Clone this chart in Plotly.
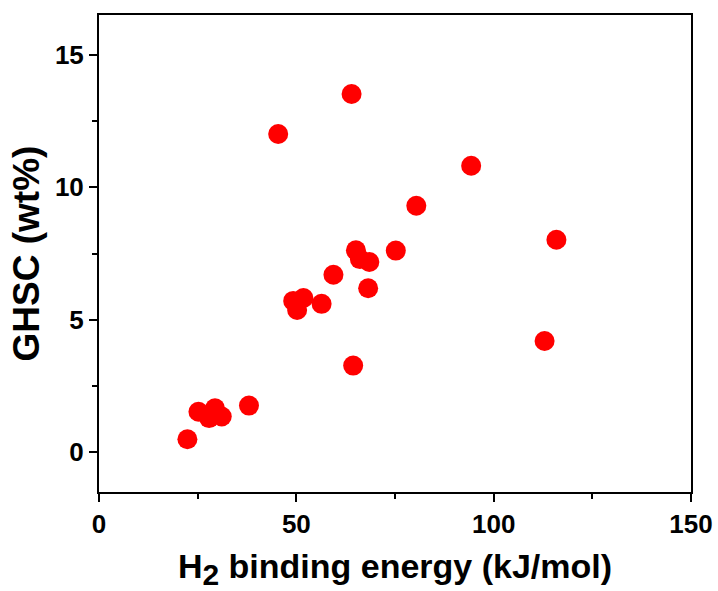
import plotly.graph_objects as go

binding_energy = [22.4, 25.2, 27.9, 29.4, 31.1, 38.0, 45.4, 49.2, 50.2, 51.8, 56.4,
                  59.4, 64.0, 64.4, 65.1, 66.1, 68.2, 68.5, 75.2, 80.4, 94.3, 112.9, 115.9]
ghsc = [0.49, 1.53, 1.29, 1.66, 1.35, 1.76, 12.01, 5.71, 5.37, 5.82, 5.60,
        6.70, 13.52, 3.27, 7.62, 7.29, 6.19, 7.18, 7.61, 9.30, 10.81, 4.20, 8.02]

x_ticks = [0, 50, 100, 150]
y_ticks = [0, 5, 10, 15]

font_family = "Liberation Sans, Arial, sans-serif"

fig = go.Figure()
fig.add_trace(go.Scatter(
    x=binding_energy, y=ghsc, mode="markers",
    marker=dict(color="#ff0000", size=20, line=dict(width=0)),
    showlegend=False,
))

axis_common = dict(
    showline=True, linecolor="black", linewidth=2, mirror=True,
    ticks="outside", ticklen=8, tickwidth=2, tickcolor="black",
    showgrid=False, zeroline=False, automargin=False,
    tickfont=dict(family=font_family, size=26, color="black", weight="bold"),
)

fig.update_xaxes(
    range=[0, 150], tickvals=x_ticks,
    minor=dict(ticks="outside", ticklen=5, tickwidth=2, tickcolor="black", dtick=25, tick0=0, showgrid=False),
    title=dict(text="H<span style='font-size:30px;baseline-shift:-7px'>2</span> binding energy (kJ/mol)",
               font=dict(family=font_family, size=34, color="black", weight="bold"), standoff=22),
    **axis_common,
)
fig.update_yaxes(
    range=[-1.5, 16.5], tickvals=y_ticks,
    minor=dict(ticks="outside", ticklen=5, tickwidth=2, tickcolor="black", dtick=2.5, tick0=0, showgrid=False),
    title=dict(text="GHSC (wt%)",
               font=dict(family=font_family, size=37, color="black", weight="bold"), standoff=4),
    **axis_common,
)

fig.update_layout(
    width=718, height=591,
    margin=dict(l=99, r=27, t=15, b=99),
    plot_bgcolor="white", paper_bgcolor="white",
)

fig.write_html("out.html")
